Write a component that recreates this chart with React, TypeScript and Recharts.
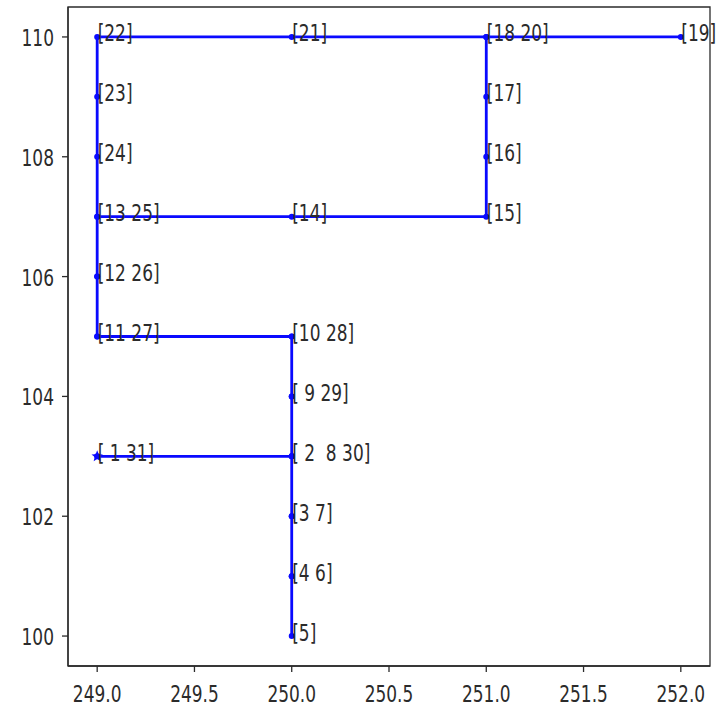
import React from "react";
import {
  ComposedChart,
  LabelList,
  Line,
  ReferenceArea,
  Scatter,
  XAxis,
  YAxis,
} from "recharts";

// route visited step by step (31 steps)
const pathX = [
  249, 250, 250, 250, 250, 250, 250, 250, 250, 250, 249, 249, 249, 250, 251,
  251, 251, 251, 252, 251, 250, 249, 249, 249, 249, 249, 249, 250, 250, 250,
  249,
];
const pathY = [
  103, 103, 102, 101, 100, 101, 102, 103, 104, 105, 105, 106, 107, 107, 107,
  108, 109, 110, 110, 110, 110, 110, 109, 108, 107, 106, 105, 105, 104, 103,
  103,
];

// step numbers printed next to each distinct cell
const labelX = [
  249, 250, 250, 250, 250, 250, 250, 249, 249, 249, 250, 251, 251, 251, 251,
  252, 250, 249, 249, 249,
];
const labelY = [
  103, 103, 102, 101, 100, 104, 105, 105, 106, 107, 107, 107, 108, 109, 110,
  110, 110, 110, 109, 108,
];
const labelText = [
  "[ 1 31]", "[ 2  8 30]", "[3 7]", "[4 6]", "[5]", "[ 9 29]", "[10 28]",
  "[11 27]", "[12 26]", "[13 25]", "[14]", "[15]", "[16]", "[17]", "[18 20]",
  "[19]", "[21]", "[22]", "[23]", "[24]",
];

const xTicks = [249, 249.5, 250, 250.5, 251, 251.5, 252];
const yTicks = [100, 102, 104, 106, 108, 110];

const pathData = pathX.map((x, i) => ({ x, y: pathY[i] }));
const labelData = labelX.map((x, i) => ({ x, y: labelY[i], text: labelText[i] }));

const X_DOMAIN: [number, number] = [248.85, 252.15];
const Y_DOMAIN: [number, number] = [99.5, 110.5];

const BLUE = "#0a0aff";
const INK = "#2b2b2b";
const FONT = "'DejaVu Sans', sans-serif";
const FS = 17;
const STRETCH = 1.4; // glyphs are tall and narrow

// text with its baseline at (x, y), stretched vertically
const TallText = ({ x, y, anchor, children }: any) => (
  <text
    transform={`translate(${x},${y}) scale(1,${STRETCH})`}
    x={0}
    y={0}
    textAnchor={anchor}
    fill={INK}
    fontSize={FS}
    fontFamily={FONT}
    style={{ whiteSpace: "pre" }}
  >
    {children}
  </text>
);

const XTick = (props: any) => {
  const { x, y, payload } = props;
  return (
    <TallText x={x} y={y + 30} anchor="middle">
      {Number(payload.value).toFixed(1)}
    </TallText>
  );
};

const YTick = (props: any) => {
  const { x, y, payload } = props;
  return (
    <TallText x={x - 8} y={y + 9} anchor="end">
      {payload.value}
    </TallText>
  );
};

const PathDot = (props: any) => {
  const { cx, cy, index } = props;
  if (cx == null || cy == null) return null;
  if (index === 0) {
    // start marker drawn as a star
    const pts: string[] = [];
    for (let k = 0; k < 10; k++) {
      const r = k % 2 === 0 ? 6 : 2.6;
      const a = -Math.PI / 2 + (k * Math.PI) / 5;
      pts.push(`${cx + r * Math.cos(a)},${cy + r * Math.sin(a)}`);
    }
    return <polygon key="start" points={pts.join(" ")} fill={BLUE} />;
  }
  return <circle key={`d-${index}`} cx={cx} cy={cy} r={3} fill={BLUE} />;
};

const StepLabel = (props: any) => {
  const { viewBox, value } = props;
  const cx = viewBox ? viewBox.x + (viewBox.width || 0) / 2 : props.x;
  const cy = viewBox ? viewBox.y + (viewBox.height || 0) / 2 : props.y;
  return (
    <TallText x={cx + 0.5} y={cy + 4.5} anchor="start">
      {value}
    </TallText>
  );
};

const App = () => {
  return (
    <div style={{ position: "absolute", left: 0, top: 0, background: "#fff" }}>
      <ComposedChart
        width={717}
        height={709}
        margin={{ top: 7, right: 7, bottom: 7, left: 8 }}
      >
        <XAxis
          xAxisId="main"
          type="number"
          dataKey="x"
          domain={X_DOMAIN}
          ticks={xTicks}
          allowDataOverflow
          height={36}
          tick={XTick}
          tickSize={6}
          tickMargin={0}
          stroke={INK}
          strokeWidth={1.3}
        />
        <YAxis
          yAxisId="main"
          type="number"
          dataKey="y"
          domain={Y_DOMAIN}
          ticks={yTicks}
          allowDataOverflow
          width={60}
          tick={YTick}
          tickSize={6}
          tickMargin={0}
          stroke={INK}
          strokeWidth={1.3}
        />
        {/* axes frame */}
        <ReferenceArea
          xAxisId="main"
          yAxisId="main"
          x1={X_DOMAIN[0]}
          x2={X_DOMAIN[1]}
          y1={Y_DOMAIN[0]}
          y2={Y_DOMAIN[1]}
          fill="none"
          fillOpacity={0}
          stroke={INK}
          strokeWidth={1.3}
        />
        <Line
          xAxisId="main"
          yAxisId="main"
          data={pathData}
          dataKey="y"
          type="linear"
          stroke={BLUE}
          strokeWidth={2.8}
          dot={PathDot}
          activeDot={false}
          isAnimationActive={false}
        />
        <Scatter
          xAxisId="main"
          yAxisId="main"
          data={labelData}
          dataKey="y"
          shape={() => <g />}
          isAnimationActive={false}
        >
          <LabelList dataKey="text" content={StepLabel} />
        </Scatter>
      </ComposedChart>
    </div>
  );
};

export default App;
